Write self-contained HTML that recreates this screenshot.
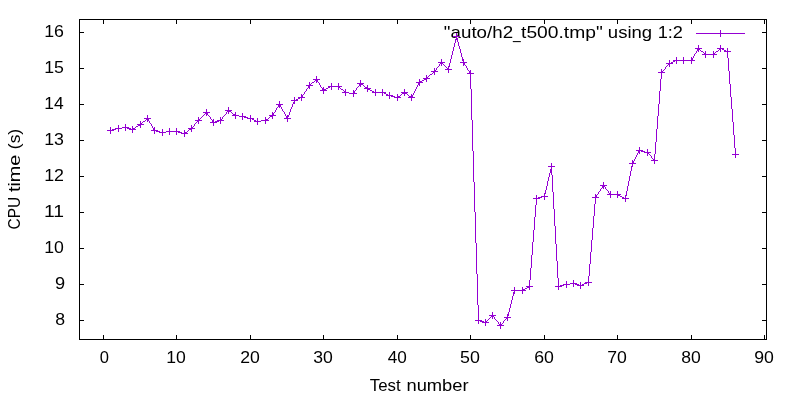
<!DOCTYPE html>
<html lang="en">
<head>
<meta charset="utf-8">
<title>CPU time vs Test number</title>
<style>
html,body{margin:0;padding:0;background:#ffffff;}
body{width:800px;height:400px;overflow:hidden;}
svg{display:block;will-change:transform;}
text{font-family:"Liberation Sans",sans-serif;font-size:17px;fill:#000000;}
.fr{fill:none;stroke:#000000;stroke-width:1;shape-rendering:crispEdges;}
.pl{fill:none;stroke:#9400d3;stroke-width:1;shape-rendering:crispEdges;}
</style>
</head>
<body>
<svg width="800" height="400" viewBox="0 0 800 400">
<rect x="0" y="0" width="800" height="400" fill="#ffffff"/>
<g class="fr">
<rect x="79.5" y="19.5" width="687" height="320"/>
<path d="M103.5 339V335M103.5 20V24"/>
<path d="M176.5 339V335M176.5 20V24"/>
<path d="M250.5 339V335M250.5 20V24"/>
<path d="M323.5 339V335M323.5 20V24"/>
<path d="M397.5 339V335M397.5 20V24"/>
<path d="M470.5 339V335M470.5 20V24"/>
<path d="M544.5 339V335M544.5 20V24"/>
<path d="M617.5 339V335M617.5 20V24"/>
<path d="M691.5 339V335M691.5 20V24"/>
<path d="M764.5 339V335M764.5 20V24"/>
<path d="M80 32.5H84M766 32.5H762"/>
<path d="M80 68.5H84M766 68.5H762"/>
<path d="M80 104.5H84M766 104.5H762"/>
<path d="M80 140.5H84M766 140.5H762"/>
<path d="M80 176.5H84M766 176.5H762"/>
<path d="M80 212.5H84M766 212.5H762"/>
<path d="M80 248.5H84M766 248.5H762"/>
<path d="M80 284.5H84M766 284.5H762"/>
<path d="M80 320.5H84M766 320.5H762"/>
</g>
<g id="xticklabels"><text x="99.69" y="363.20" textLength="9.22" lengthAdjust="spacingAndGlyphs">0</text><text x="166.30" y="363.20" textLength="19.58" lengthAdjust="spacingAndGlyphs">10</text><text x="240.24" y="363.20" textLength="19.64" lengthAdjust="spacingAndGlyphs">20</text><text x="313.27" y="363.20" textLength="19.61" lengthAdjust="spacingAndGlyphs">30</text><text x="387.75" y="363.20" textLength="19.11" lengthAdjust="spacingAndGlyphs">40</text><text x="460.04" y="363.20" textLength="19.85" lengthAdjust="spacingAndGlyphs">50</text><text x="534.20" y="363.20" textLength="19.68" lengthAdjust="spacingAndGlyphs">60</text><text x="607.22" y="363.20" textLength="19.66" lengthAdjust="spacingAndGlyphs">70</text><text x="681.34" y="363.20" textLength="19.54" lengthAdjust="spacingAndGlyphs">80</text><text x="754.24" y="363.20" textLength="19.64" lengthAdjust="spacingAndGlyphs">90</text></g>
<g id="yticklabels"><text x="44.18" y="37.30" textLength="19.79" lengthAdjust="spacingAndGlyphs">16</text><text x="44.19" y="73.30" textLength="19.74" lengthAdjust="spacingAndGlyphs">15</text><text x="44.21" y="109.30" textLength="19.43" lengthAdjust="spacingAndGlyphs">14</text><text x="44.18" y="145.30" textLength="19.77" lengthAdjust="spacingAndGlyphs">13</text><text x="44.18" y="181.30" textLength="19.83" lengthAdjust="spacingAndGlyphs">12</text><text x="44.06" y="217.30" textLength="20.05" lengthAdjust="spacingAndGlyphs">11</text><text x="44.19" y="253.30" textLength="19.66" lengthAdjust="spacingAndGlyphs">10</text><text x="55.11" y="289.30" textLength="10.14" lengthAdjust="spacingAndGlyphs">9</text><text x="55.23" y="325.30" textLength="9.85" lengthAdjust="spacingAndGlyphs">8</text></g>
<g id="xlabel"><text x="369.83" y="390.80" textLength="30.83" lengthAdjust="spacingAndGlyphs">Test</text> <text x="406.44" y="390.80" textLength="62.20" lengthAdjust="spacingAndGlyphs">number</text></g>
<g id="ylabel"><text transform="translate(20.00 229.45) rotate(-90)" textLength="32.66" lengthAdjust="spacingAndGlyphs">CPU</text> <text transform="translate(20.00 192.05) rotate(-90)" textLength="37.39" lengthAdjust="spacingAndGlyphs">time</text> <text transform="translate(20.00 149.16) rotate(-90)" textLength="20.28" lengthAdjust="spacingAndGlyphs">(s)</text></g>
<g id="key"><text x="443.88" y="37.70" textLength="69.21" lengthAdjust="spacingAndGlyphs">&quot;auto/h2</text><text x="513.06" y="38.70" textLength="7.67" lengthAdjust="spacingAndGlyphs">_</text><text x="521.06" y="37.70" textLength="81.73" lengthAdjust="spacingAndGlyphs">t500.tmp&quot;</text> <text x="607.83" y="37.70" textLength="44.34" lengthAdjust="spacingAndGlyphs">using</text> <text x="657.66" y="37.70" textLength="25.28" lengthAdjust="spacingAndGlyphs">1:2</text></g>
<g class="pl">
<path d="M696 33.5h49M453 36.5h7M456 38.5h2M455 39.5h3M695 48.5h7M717 48.5h7M697 49.5h3M719 49.5h2M722 49.5h2M697 50.5h2M724 50.5h2M701 51.5h2M716 51.5h2M724 51.5h7M704 53.5h2M713 53.5h2M702 54.5h15M691 58.5h2M462 59.5h2M691 59.5h2M462 60.5h2M673 60.5h22M673 61.5h2M438 62.5h7M460 62.5h7M671 62.5h2M440 63.5h3M463 63.5h2M666 63.5h7M463 64.5h2M668 64.5h2M448 66.5h2M447 68.5h2M445 69.5h7M434 70.5h2M431 71.5h7M469 71.5h2M661 71.5h2M433 72.5h2M469 72.5h2M658 72.5h7M467 73.5h7M430 74.5h2M426 77.5h2M423 78.5h7M313 79.5h7M424 79.5h3M315 80.5h3M422 80.5h2M316 81.5h2M419 81.5h3M312 82.5h2M416 82.5h7M357 83.5h7M418 83.5h2M309 84.5h2M359 84.5h4M418 84.5h2M306 85.5h7M359 85.5h2M308 86.5h2M328 86.5h14M308 87.5h2M328 87.5h2M338 87.5h2M365 87.5h3M322 88.5h2M326 88.5h2M364 88.5h7M322 89.5h4M341 89.5h2M367 89.5h3M320 90.5h7M370 90.5h2M344 91.5h2M353 91.5h2M372 91.5h2M342 92.5h7M353 92.5h2M372 92.5h14M401 92.5h7M349 93.5h8M384 93.5h2M402 93.5h5M386 94.5h2M301 95.5h2M386 95.5h7M411 95.5h2M301 96.5h2M391 96.5h4M397 96.5h3M409 96.5h4M298 97.5h7M394 97.5h7M408 97.5h7M298 98.5h2M296 99.5h2M291 100.5h7M293 102.5h2M293 103.5h2M276 104.5h7M278 105.5h3M278 106.5h3M225 110.5h7M227 111.5h4M203 112.5h7M205 113.5h3M272 113.5h2M206 114.5h2M233 114.5h3M272 114.5h2M232 115.5h7M269 115.5h7M287 115.5h2M239 116.5h7M270 116.5h3M286 116.5h3M244 117.5h4M286 117.5h2M144 118.5h7M247 118.5h7M284 118.5h7M146 119.5h3M198 119.5h2M220 119.5h2M252 119.5h2M265 119.5h3M147 120.5h2M195 120.5h7M212 120.5h2M217 120.5h7M254 120.5h2M261 120.5h8M143 121.5h2M197 121.5h2M212 121.5h2M215 121.5h4M254 121.5h7M210 122.5h7M140 123.5h2M137 124.5h7M138 125.5h3M136 126.5h2M122 127.5h7M191 127.5h2M115 128.5h7M127 128.5h4M132 128.5h3M153 128.5h2M188 128.5h7M112 129.5h4M129 129.5h7M153 129.5h2M189 129.5h3M107 130.5h7M151 130.5h7M156 131.5h4M166 131.5h14M159 132.5h7M178 132.5h4M184 132.5h3M181 133.5h7M636 150.5h7M638 151.5h2M641 151.5h4M638 152.5h2M644 152.5h7M647 153.5h2M732 154.5h7M653 159.5h2M651 160.5h7M632 161.5h2M632 162.5h2M629 163.5h7M548 166.5h7M631 166.5h2M550 169.5h2M550 170.5h2M550 171.5h2M550 172.5h2M600 185.5h7M602 186.5h3M602 187.5h2M544 193.5h2M609 193.5h2M607 194.5h14M595 195.5h2M617 195.5h3M625 195.5h2M541 196.5h7M595 196.5h2M620 196.5h2M538 197.5h4M592 197.5h7M622 197.5h2M533 198.5h7M622 198.5h7M585 282.5h7M570 283.5h7M584 283.5h3M563 284.5h7M575 284.5h4M582 284.5h2M560 285.5h4M577 285.5h7M526 286.5h7M555 286.5h7M527 287.5h3M525 288.5h2M522 289.5h3M511 290.5h15M513 292.5h2M513 293.5h2M507 314.5h2M489 315.5h7M507 315.5h2M491 316.5h3M504 317.5h7M506 318.5h2M475 320.5h7M480 321.5h4M485 321.5h2M482 322.5h7M499 324.5h3M497 325.5h7M110.5 127v3M110.5 131v3M118.5 125v3M118.5 129v3M125.5 124v3M125.5 128v3M132.5 126v2M132.5 130v3M135.5 127v1M140.5 121v2M140.5 126v2M142.5 122v1M145.5 120v1M147.5 115v3M147.5 121v1M149.5 121v2M150.5 123v1M151.5 124v2M152.5 126v2M154.5 127v1M154.5 131v3M162.5 129v3M162.5 133v3M169.5 128v3M169.5 132v3M176.5 128v3M176.5 132v3M184.5 130v2M184.5 134v3M187.5 131v1M188.5 130v1M191.5 125v2M191.5 130v2M193.5 126v1M194.5 124v2M195.5 123v1M196.5 122v1M198.5 117v2M198.5 122v2M200.5 118v1M201.5 117v1M202.5 116v1M203.5 115v1M204.5 114v1M206.5 109v3M206.5 115v1M208.5 115v1M209.5 116v1M210.5 117v2M211.5 119v1M213.5 119v1M213.5 123v3M220.5 117v2M220.5 121v3M222.5 117v2M223.5 116v1M224.5 115v1M225.5 114v1M226.5 112v2M228.5 107v3M228.5 112v2M231.5 112v1M232.5 113v1M235.5 112v2M235.5 116v3M242.5 113v3M242.5 117v3M250.5 115v3M250.5 119v3M257.5 118v3M257.5 122v3M265.5 117v2M265.5 121v3M268.5 118v1M269.5 117v1M272.5 112v1M272.5 117v2M274.5 112v1M275.5 110v2M276.5 108v2M277.5 107v1M279.5 101v3M279.5 107v1M281.5 107v2M282.5 109v2M283.5 111v1M284.5 112v2M285.5 114v2M287.5 119v3M289.5 112v3M290.5 109v3M291.5 107v2M292.5 104v3M294.5 97v3M294.5 101v1M301.5 94v1M301.5 98v3M303.5 94v1M304.5 92v2M305.5 91v1M306.5 89v2M307.5 88v1M309.5 82v2M309.5 88v1M311.5 83v1M314.5 81v1M316.5 76v3M316.5 82v1M318.5 82v1M319.5 83v2M320.5 85v2M321.5 87v1M323.5 87v1M323.5 91v3M331.5 83v3M331.5 87v3M338.5 83v3M338.5 88v2M340.5 88v1M343.5 90v1M345.5 89v2M345.5 93v3M353.5 90v1M353.5 94v3M355.5 90v1M356.5 88v2M357.5 87v1M358.5 86v1M360.5 80v3M360.5 86v1M363.5 85v1M364.5 86v1M367.5 85v2M367.5 90v2M375.5 89v3M375.5 93v3M382.5 89v3M382.5 93v3M389.5 92v3M389.5 96v3M397.5 94v2M397.5 98v3M400.5 95v1M401.5 94v1M404.5 89v3M404.5 94v2M407.5 94v1M408.5 95v1M411.5 94v1M411.5 98v3M413.5 93v2M414.5 91v2M415.5 89v2M416.5 87v2M417.5 85v2M419.5 79v2M419.5 85v1M426.5 75v2M426.5 80v2M428.5 76v1M429.5 75v1M432.5 73v1M434.5 68v2M434.5 73v2M436.5 68v2M437.5 67v1M438.5 66v1M439.5 64v2M441.5 59v3M441.5 64v2M443.5 64v1M444.5 65v1M445.5 66v1M446.5 67v1M448.5 67v1M448.5 70v3M449.5 63v3M450.5 59v4M451.5 55v4M452.5 51v4M453.5 47v4M454.5 43v4M455.5 40v3M456.5 33v3M456.5 37v1M457.5 40v2M458.5 42v4M459.5 46v3M460.5 49v4M461.5 53v4M462.5 57v2M463.5 61v1M463.5 65v1M465.5 65v1M466.5 66v2M467.5 68v2M468.5 70v1M470.5 70v1M470.5 74v15M471.5 89v31M472.5 120v31M473.5 151v31M474.5 182v30M475.5 212v31M476.5 243v31M477.5 274v31M478.5 305v15M478.5 321v3M485.5 319v2M485.5 323v3M487.5 320v1M488.5 319v1M489.5 318v1M490.5 317v1M492.5 312v3M492.5 317v2M494.5 317v2M495.5 319v1M496.5 320v1M497.5 321v1M498.5 322v2M500.5 322v2M500.5 326v3M502.5 323v1M503.5 321v2M504.5 320v1M505.5 319v1M507.5 316v1M507.5 319v2M508.5 312v2M509.5 308v4M510.5 304v4M511.5 300v4M512.5 296v4M513.5 294v2M514.5 287v3M514.5 291v1M522.5 287v2M522.5 291v3M529.5 280v6M529.5 288v2M530.5 268v12M531.5 255v13M532.5 242v13M533.5 230v12M534.5 217v13M535.5 205v12M536.5 195v3M536.5 199v6M544.5 194v2M544.5 197v3M545.5 190v3M546.5 186v4M547.5 181v5M548.5 177v4M549.5 173v4M551.5 163v3M551.5 167v2M551.5 173v2M552.5 175v17M553.5 192v17M554.5 209v17M555.5 226v18M556.5 244v17M557.5 261v17M558.5 278v8M558.5 287v3M566.5 281v3M566.5 285v3M573.5 280v3M573.5 284v3M580.5 282v3M580.5 286v3M588.5 276v6M588.5 283v3M589.5 264v12M590.5 252v12M591.5 240v12M592.5 228v12M593.5 216v12M594.5 204v12M595.5 194v1M595.5 198v6M597.5 194v1M598.5 192v2M599.5 191v1M600.5 189v2M601.5 188v1M603.5 182v3M603.5 188v1M605.5 187v2M606.5 189v1M607.5 190v1M608.5 191v2M610.5 191v2M610.5 195v3M617.5 191v3M617.5 196v2M625.5 196v2M625.5 199v3M626.5 191v4M627.5 186v5M628.5 181v5M629.5 176v5M630.5 171v5M631.5 167v4M632.5 160v1M632.5 164v2M634.5 159v2M635.5 157v2M636.5 155v2M637.5 153v2M639.5 147v3M639.5 153v1M647.5 149v3M647.5 154v2M649.5 154v1M650.5 155v1M651.5 156v2M652.5 158v1M654.5 154v5M654.5 161v3M655.5 142v12M656.5 129v13M657.5 116v13M658.5 104v12M659.5 91v13M660.5 79v12M661.5 69v2M661.5 73v6M663.5 70v1M664.5 69v1M665.5 67v2M666.5 66v1M667.5 65v1M669.5 60v3M669.5 65v2M676.5 57v3M676.5 61v3M683.5 57v3M683.5 61v3M691.5 57v1M691.5 61v3M693.5 56v2M694.5 54v2M695.5 53v1M696.5 51v2M698.5 45v3M698.5 51v1M700.5 50v1M703.5 52v1M705.5 51v2M705.5 55v3M713.5 51v2M713.5 55v3M715.5 52v1M718.5 50v1M720.5 30v3M720.5 34v3M720.5 45v3M720.5 50v2M727.5 48v3M727.5 52v6M728.5 58v13M729.5 71v13M730.5 84v13M731.5 97v12M732.5 109v13M733.5 122v13M734.5 135v13M735.5 148v6M735.5 155v3"/>
</g>
</svg>
</body>
</html>
